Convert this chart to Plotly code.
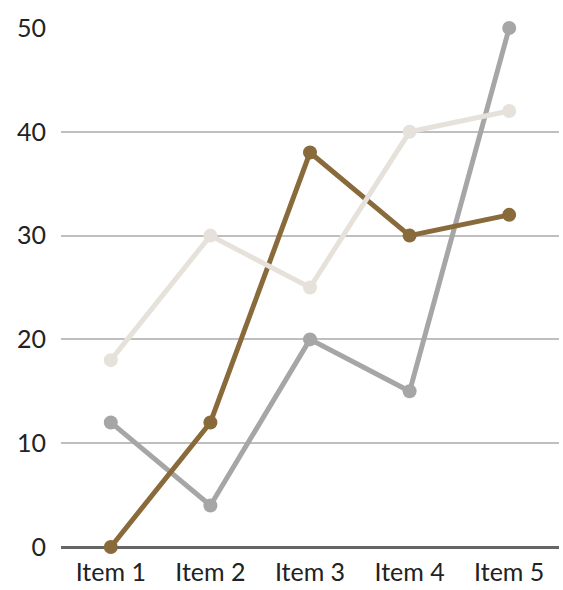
import plotly.graph_objects as go

categories = ["Item 1", "Item 2", "Item 3", "Item 4", "Item 5"]
series_gray = [12, 4, 20, 15, 50]
series_brown = [0, 12, 38, 30, 32]
series_beige = [18, 30, 25, 40, 42]

fig = go.Figure()
for vals, col in [(series_gray, "#A6A6A6"), (series_brown, "#896A3B"), (series_beige, "#E6E2DB")]:
    fig.add_trace(go.Scatter(
        x=categories, y=vals, mode="lines+markers",
        line=dict(color=col, width=5),
        marker=dict(color=col, size=14),
        cliponaxis=False, showlegend=False,
    ))

fig.update_layout(
    width=563, height=590,
    margin=dict(l=61, r=4, t=28, b=41),
    paper_bgcolor="white", plot_bgcolor="white",
    font=dict(family="Lato, Nunito, sans-serif", size=25, color="#222222"),
    xaxis=dict(range=[-0.5, 4.5], showgrid=False, showline=False, ticks="",
               tickfont=dict(size=25), ticklabelstandoff=8),
    yaxis=dict(range=[0, 50], dtick=10, showgrid=True, gridcolor="#BFBFBF", gridwidth=2,
               zeroline=True, zerolinecolor="#666666", zerolinewidth=3,
               showline=False, ticks="", ticklabelstandoff=14, tickfont=dict(size=25)),
)
fig.write_html("out.html")
